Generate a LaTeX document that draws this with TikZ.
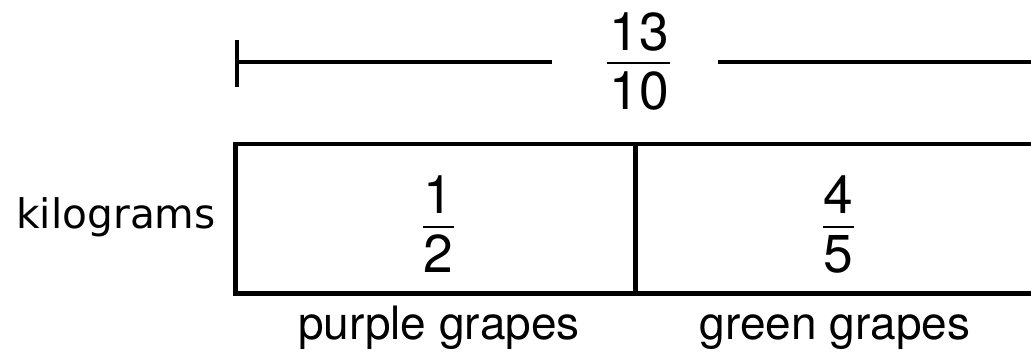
\documentclass[tikz,border=0pt]{standalone}
\usepackage{fontspec}
\setmainfont{TeX Gyre Heros}
\newfontfamily\dejavu{DejaVu Sans}
\begin{document}
\begin{tikzpicture}[x=0.75pt,y=-0.75pt,
  thick line/.style={line width=3.4pt},
  cell/.style={draw,line width=3.4pt,minimum width=400*0.75pt,minimum height=149.5*0.75pt,inner sep=0pt,outer sep=0pt},
  fracnum/.style={anchor=base,inner sep=0pt,font=\fontsize{40}{40}\selectfont},
  fracbar/.style={line width=2pt},
  label/.style={anchor=base,inner sep=0pt,font=\fontsize{34.5}{36}\selectfont}]
\useasboundingbox (0,0) rectangle (1031,356);
\clip (0,0) rectangle (1031,356);
% top dimension line
\coordinate (tickT) at (237,40);
\coordinate (tickB) at (237,87);
\coordinate (dimL) at (237,62);
\coordinate (gapL) at (552,62);
\coordinate (gapR) at (718,62);
\coordinate (dimR) at (1040,62);
\draw[thick line] (tickT) -- (tickB);
\draw[thick line] (dimL) -- (gapL);
\draw[thick line] (gapR) -- (dimR);
\node[fracnum] (tn) at (639,51) {13};
\node[fracnum] (td) at (639,110) {10};
\draw[fracbar] (607,63) -- (670,63);
% box
\node[cell] (c1) at (435.5,218.75) {};
\node[cell] (c2) at (835.5,218.75) {};
% fractions in cells
\node[fracnum] (an) at (438.5,213) {1};
\node[fracnum] (ad) at (438.5,272) {2};
\draw[fracbar] (423,227) -- (454,227);
\node[fracnum] (bn) at (838.5,213) {4};
\node[fracnum] (bd) at (838.5,272) {5};
\draw[fracbar] (823,227) -- (854,227);
% labels
\node[anchor=base east,inner sep=0pt,font=\dejavu\fontsize{30.5}{32}\selectfont] (kg) at (216,228) {kilograms};
\node[label] (pg) at (439,339) {purple grapes};
\node[label] (gg) at (835,339) {green grapes};
\end{tikzpicture}
\end{document}
